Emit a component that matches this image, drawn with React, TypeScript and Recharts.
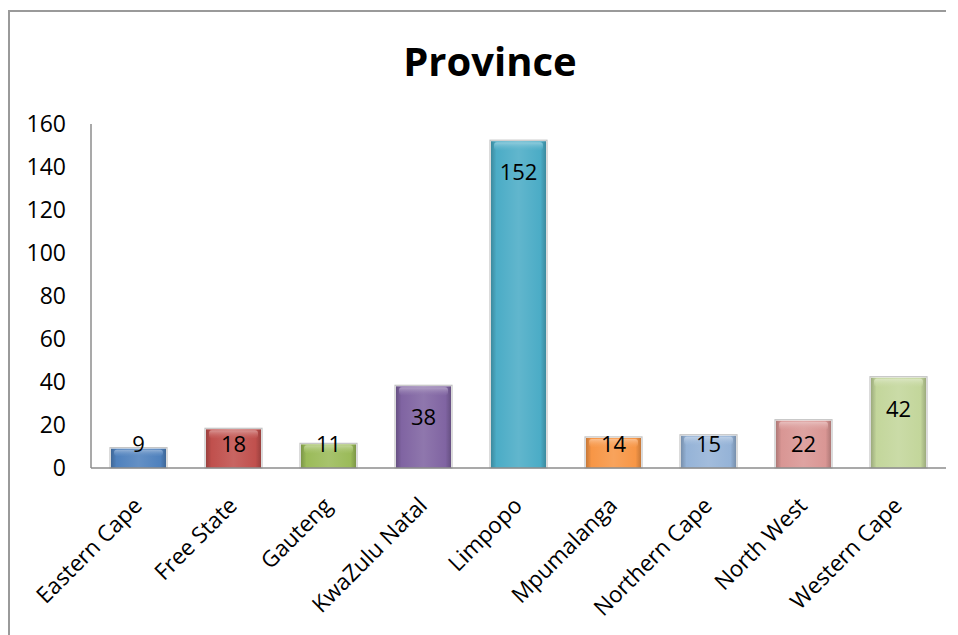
import { Bar, BarChart, Cell, LabelList, XAxis, YAxis } from "recharts";

const PROVINCES = [
  "Eastern Cape",
  "Free State",
  "Gauteng",
  "KwaZulu Natal",
  "Limpopo",
  "Mpumalanga",
  "Northern Cape",
  "North West",
  "Western Cape",
];
const COUNTS = [9, 18, 11, 38, 152, 14, 15, 22, 42];
const Y_TICKS = [0, 20, 40, 60, 80, 100, 120, 140, 160];
const COLORS = ["#4F81BD", "#C0504D", "#9BBB59", "#8064A2", "#4BACC6", "#F79646", "#95B3D7", "#D99694", "#C3D69B"];

const data = PROVINCES.map((name, i) => ({ name, value: COUNTS[i] }));

const FONT = "'Open Sans', 'DejaVu Sans', sans-serif";

function shade(hex: string, amt: number) {
  const n = parseInt(hex.slice(1), 16);
  const f = (c: number) => Math.max(0, Math.min(255, Math.round(amt < 0 ? c * (1 + amt) : c + (255 - c) * amt)));
  const r = f((n >> 16) & 255);
  const g = f((n >> 8) & 255);
  const b = f(n & 255);
  return `rgb(${r},${g},${b})`;
}

function BevelBar(props: any) {
  const { x, y, width, height, index } = props;
  if (height <= 0) return null;
  const bevel = Math.min(8, height / 3);
  return (
    <g>
      <rect x={x - 1} y={y - 1} width={width + 2} height={height + 1} fill="none" stroke="#c4c4c4" strokeWidth={1.2} />
      <rect x={x} y={y} width={width} height={height} fill={`url(#barGrad${index})`} />
      <rect x={x + 3} y={y + 1} width={width - 6} height={bevel} rx={3} fill={`url(#topGrad${index})`} />
    </g>
  );
}

function ValueLabel(props: any) {
  const { x, y, width, height, value } = props;
  const cy = Math.min(y + 30, y + height - 25);
  return (
    <text
      x={x + width / 2}
      y={cy}
      textAnchor="middle"
      dominantBaseline="central"
      fontFamily={FONT}
      fontSize={22}
      fill="#000"
    >
      {value}
    </text>
  );
}

function XTick(props: any) {
  const { x, y, payload } = props;
  const ax = x + 5;
  const ay = y + 31;
  return (
    <text
      x={ax}
      y={ay}
      transform={`rotate(-45, ${ax}, ${ay})`}
      textAnchor="end"
      fontFamily={FONT}
      fontSize={22.5}
      fill="#000"
    >
      {payload.value}
    </text>
  );
}

export default function App() {
  return (
    <div style={{ position: "relative", width: 950, height: 627, overflow: "hidden" }}>
      <style>{"html,body{overflow:hidden}"}</style>
      <svg width={950} height={627} style={{ position: "absolute", left: 0, top: 0 }}>
        <line x1={1} y1={2} x2={1} y2={627} stroke="#9a9a9a" strokeWidth={2} />
        <line x1={0} y1={3} x2={938} y2={3} stroke="#9a9a9a" strokeWidth={2} />
        <text x={482} y={68} textAnchor="middle" fontFamily={FONT} fontWeight="bold" fontSize={40} fill="#000">
          Province
        </text>
      </svg>
      <div style={{ position: "absolute", left: 0, top: 0 }}>
        <BarChart
          width={950}
          height={627}
          data={data}
          margin={{ top: 116, right: 12, left: 0, bottom: 0 }}
          barSize={55}
        >
          <defs>
            {COLORS.map((c, i) => (
              <linearGradient key={`bg${i}`} id={`barGrad${i}`} x1="0" y1="0" x2="1" y2="0">
                <stop offset="0%" stopColor={shade(c, -0.2)} />
                <stop offset="10%" stopColor={c} />
                <stop offset="50%" stopColor={shade(c, 0.12)} />
                <stop offset="90%" stopColor={c} />
                <stop offset="100%" stopColor={shade(c, -0.2)} />
              </linearGradient>
            ))}
            {COLORS.map((c, i) => (
              <linearGradient key={`tg${i}`} id={`topGrad${i}`} x1="0" y1="0" x2="0" y2="1">
                <stop offset="0%" stopColor={shade(c, 0.4)} />
                <stop offset="100%" stopColor={shade(c, 0.1)} stopOpacity={0.2} />
              </linearGradient>
            ))}
          </defs>
          <XAxis
            dataKey="name"
            height={167}
            interval={0}
            tick={<XTick />}
            tickLine={false}
            axisLine={{ stroke: "#8c8c8c", strokeWidth: 1.5 }}
          />
          <YAxis
            width={83}
            domain={[0, 160]}
            ticks={Y_TICKS}
            tickSize={0}
            tickMargin={25}
            tickLine={false}
            axisLine={{ stroke: "#8c8c8c", strokeWidth: 1.5 }}
            tick={{ fontFamily: FONT, fontSize: 23, fill: "#000" }}
          />
          <Bar dataKey="value" isAnimationActive={false} shape={<BevelBar />}>
            {data.map((d, i) => (
              <Cell key={d.name} fill={COLORS[i]} />
            ))}
            <LabelList dataKey="value" content={<ValueLabel />} />
          </Bar>
        </BarChart>
      </div>
    </div>
  );
}
